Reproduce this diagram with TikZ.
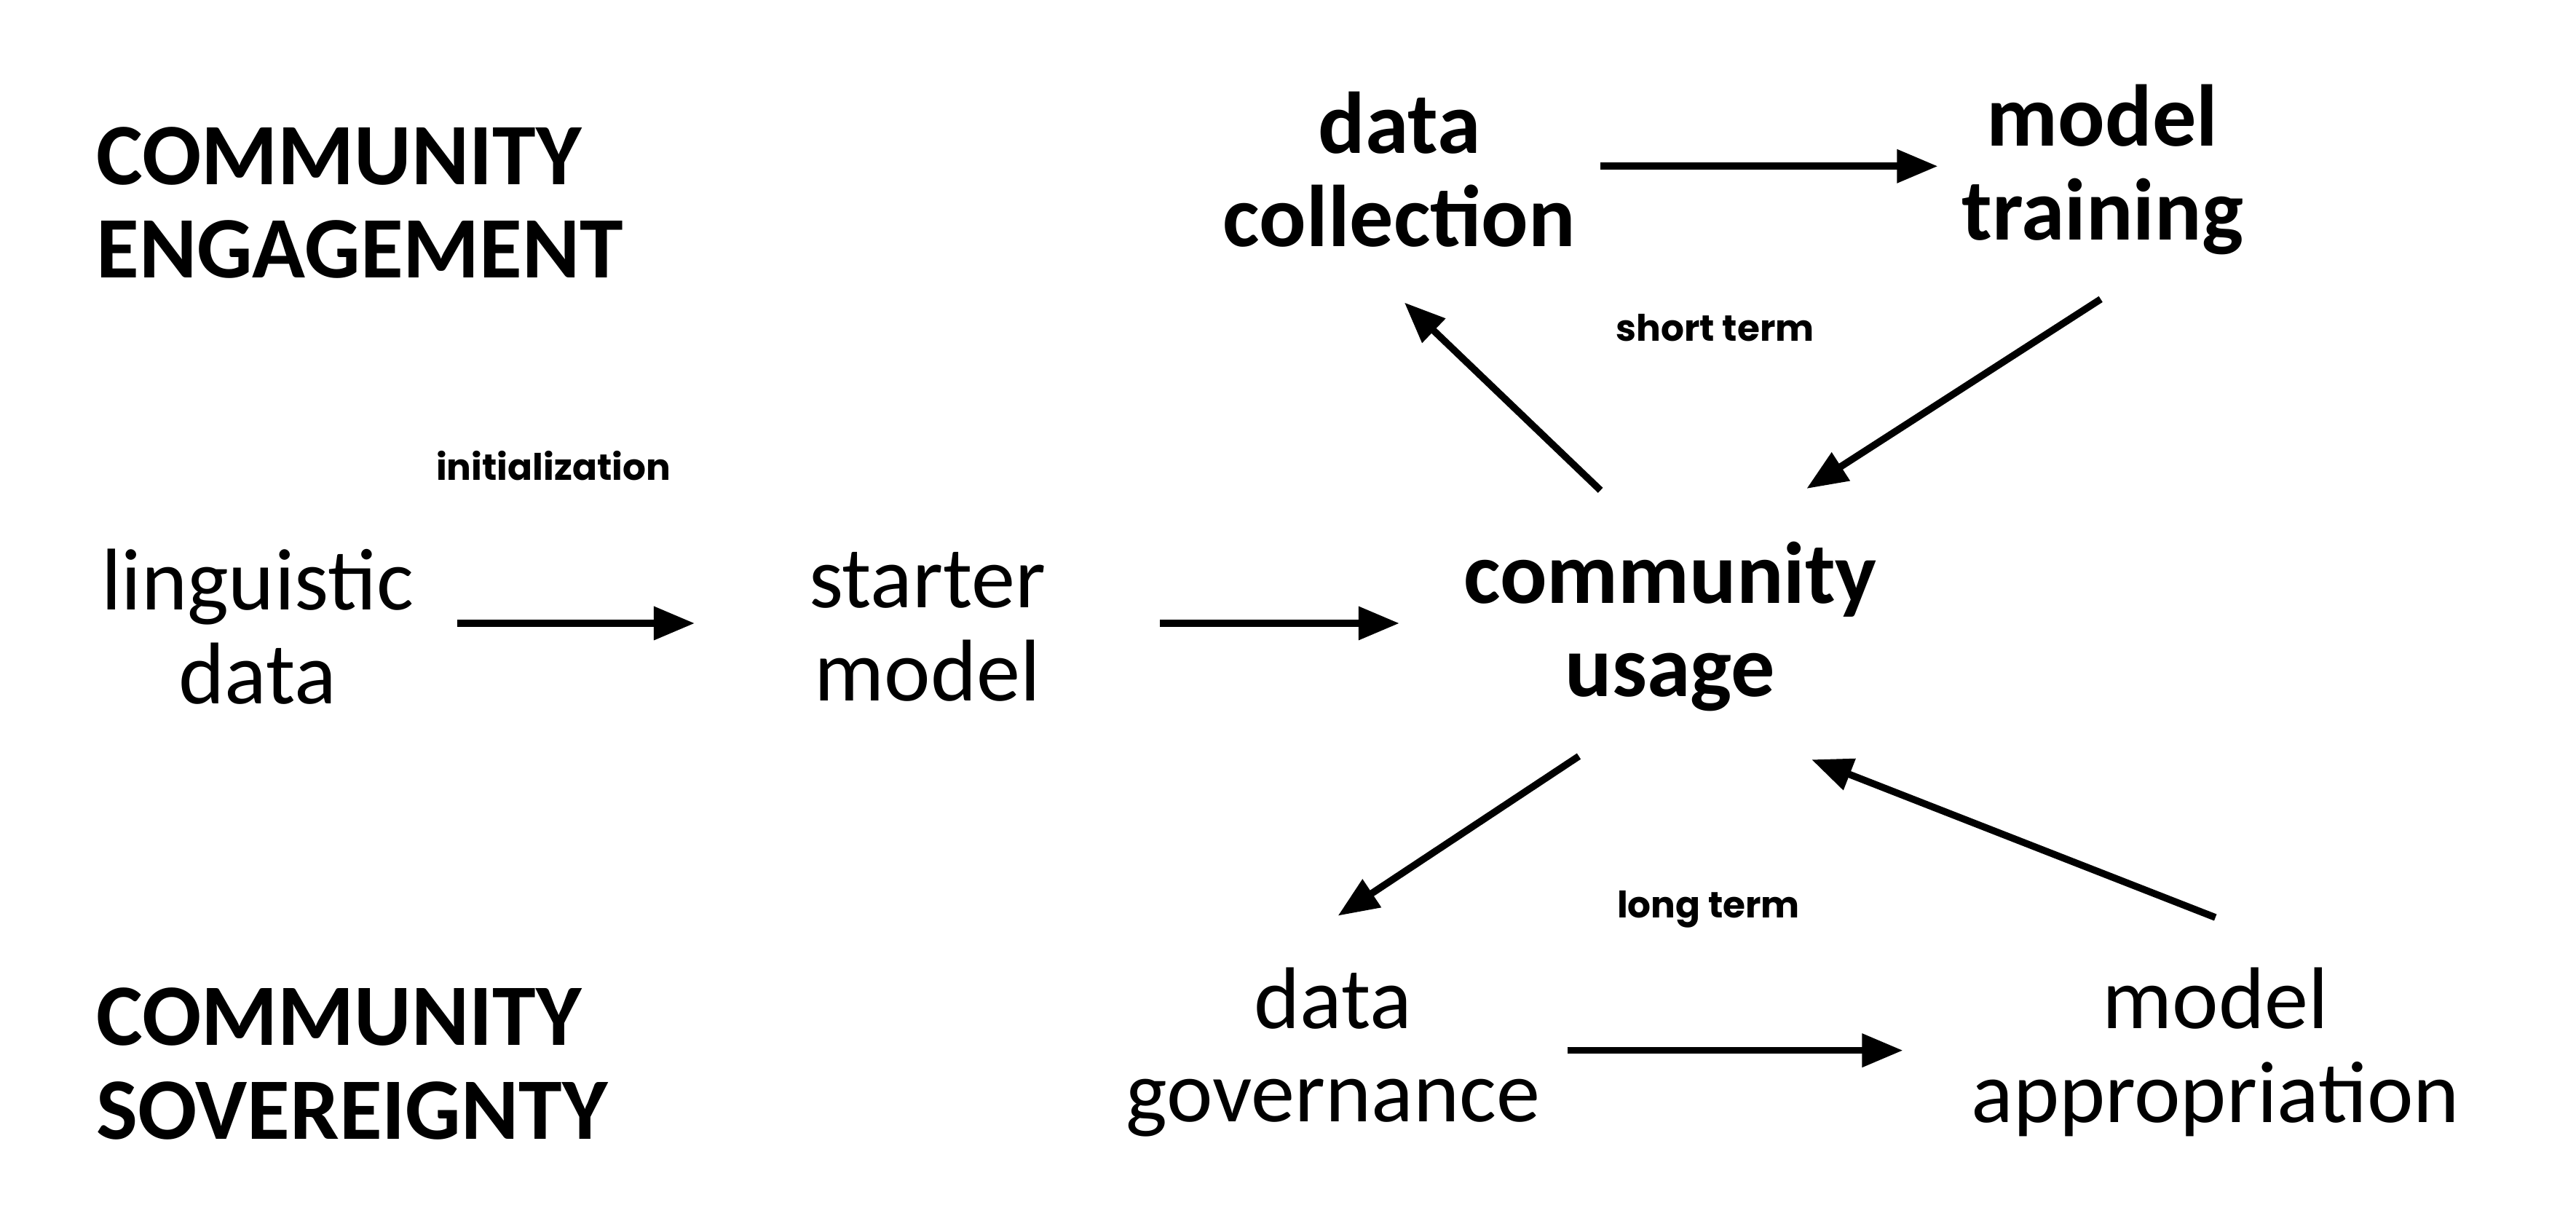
\documentclass[tikz,border=0pt]{standalone}
\usepackage{fontspec}
\setmainfont{Carlito}
\newfontfamily\labelfont{Poppins}
\usetikzlibrary{arrows.meta}

\begin{document}
\begin{tikzpicture}[x=0.02cm, y=-0.02cm, line width=2.4pt,
    stage/.style={align=center, font=\fontsize{30}{32}\selectfont},
    keystage/.style={stage, font=\fontsize{30}{32}\selectfont\bfseries},
    heading/.style={align=left, anchor=west, font=\fontsize{30}{32}\selectfont\bfseries},
    term/.style={font=\labelfont\fontsize{12.5}{14}\selectfont\bfseries},
    flow/.style={-{Triangle[length=14pt, width=11pt]}}]
    \useasboundingbox (0, 0) rectangle (1550, 741);

    % headings
    \node[heading] (engage) at (50, 122) {COMMUNITY\\ENGAGEMENT};
    \node[heading] (sovereign) at (50, 640) {COMMUNITY\\SOVEREIGNTY};

    % stages
    \node[stage] (ling) at (155, 377) {linguistic\\data};
    \node[stage] (starter) at (558, 377) {starter\\model};
    \node[keystage] (usage) at (1005, 377) {community\\usage};
    \node[keystage] (collect) at (842, 102) {data\\collection};
    \node[keystage] (train) at (1265, 102) {model\\training};
    \node[stage] (govern) at (802, 633) {data\\governance};
    \node[stage] (approp) at (1333, 633) {model\\appropriation};

    % terms
    \node[term] (init) at (333, 280) {initialization};
    \node[term] (short) at (1032, 197) {short term};
    \node[term] (long) at (1028, 547) {long term};

    % arrow ends
    \coordinate (a1) at (275, 375);  \coordinate (a2) at (418, 375);
    \coordinate (b1) at (698, 375);  \coordinate (b2) at (842, 375);
    \coordinate (c1) at (963, 100);  \coordinate (c2) at (1166, 100);
    \coordinate (d1) at (963, 295);  \coordinate (d2) at (845, 182);
    \coordinate (e1) at (1264, 180); \coordinate (e2) at (1087, 294);
    \coordinate (f1) at (950, 455);  \coordinate (f2) at (805, 551);
    \coordinate (g1) at (1333, 552); \coordinate (g2) at (1090, 457);
    \coordinate (h1) at (943, 632);  \coordinate (h2) at (1145, 632);

    % arrows
    \draw[flow] (a1) -- (a2);
    \draw[flow] (b1) -- (b2);
    \draw[flow] (c1) -- (c2);
    \draw[flow] (d1) -- (d2);
    \draw[flow] (e1) -- (e2);
    \draw[flow] (f1) -- (f2);
    \draw[flow] (g1) -- (g2);
    \draw[flow] (h1) -- (h2);
\end{tikzpicture}
\end{document}
